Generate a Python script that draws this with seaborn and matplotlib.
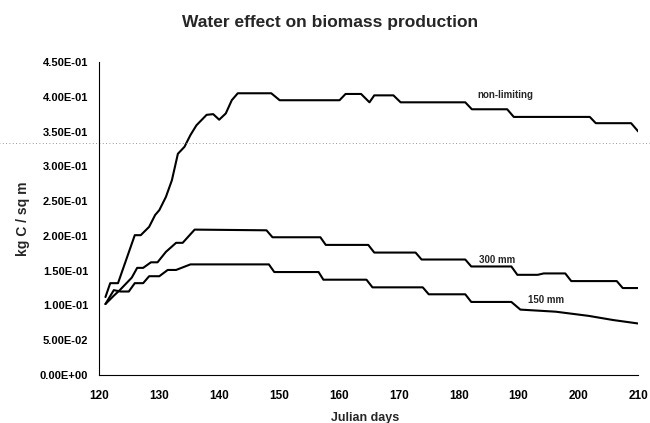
"""Water effect on biomass production - line chart recreation."""

import matplotlib
matplotlib.use("Agg")
import matplotlib.pyplot as plt
import pandas as pd
import seaborn as sns
from matplotlib.ticker import FuncFormatter, MultipleLocator

# Julian day / biomass (kg C per sq m)
non_limiting_days = [121, 121.8, 123.1, 125.9, 126.9, 128.3, 129.3, 130, 131.1, 132.1,
                     133.1, 134.2, 135.2, 136.2, 137.9, 139, 140, 141.1, 142.1, 143.1,
                     148.7, 150.1, 160.1, 161.1, 163.7, 165.1, 165.9, 169.1, 170.3,
                     181.1, 182.2, 188.1, 189.2, 201.9, 202.9, 208.8, 210]
non_limiting_vals = [0.112, 0.132, 0.132, 0.201, 0.201, 0.213, 0.23, 0.237, 0.256, 0.28,
                     0.318, 0.328, 0.345, 0.359, 0.374, 0.375, 0.367, 0.376, 0.395, 0.405,
                     0.405, 0.395, 0.395, 0.404, 0.404, 0.392, 0.402, 0.402, 0.392,
                     0.392, 0.382, 0.382, 0.371, 0.371, 0.362, 0.362, 0.35]

mm300_days = [121, 122.4, 123.4, 125.4, 126.3, 127.3, 128.6, 129.7, 131.1, 132.8,
              133.9, 135.9, 147.9, 148.9, 156.9, 157.8, 164.9, 165.9, 172.8, 173.8,
              181.1, 182.1, 188.8, 189.8, 193.2, 194.2, 197.8, 198.8, 206.4, 207.4, 210]
mm300_vals = [0.102, 0.114, 0.122, 0.14, 0.154, 0.154, 0.162, 0.162, 0.177, 0.19,
              0.19, 0.209, 0.208, 0.198, 0.198, 0.187, 0.187, 0.176, 0.176, 0.166,
              0.166, 0.156, 0.156, 0.144, 0.144, 0.146, 0.146, 0.135, 0.135, 0.125, 0.125]

mm150_days = [121, 122.4, 123.5, 124.9, 125.9, 127.3, 128.3, 130, 131.4, 132.8,
              135.2, 148.3, 149.2, 156.6, 157.4, 164.6, 165.6, 174, 175, 181.1,
              182.1, 188.8, 190.3, 196.2, 201.7, 205.8, 210]
mm150_vals = [0.102, 0.122, 0.12, 0.12, 0.132, 0.132, 0.142, 0.142, 0.151, 0.151,
              0.159, 0.159, 0.148, 0.148, 0.137, 0.137, 0.126, 0.126, 0.116, 0.116,
              0.105, 0.105, 0.094, 0.091, 0.085, 0.079, 0.074]

series_labels = ["non-limiting", "300 mm", "150 mm"]
# where each inline label sits (day, value)
label_pos = [(187.8, 0.402), (186.4, 0.165), (194.6, 0.108)]

frames = []
for name, d, v in [(series_labels[0], non_limiting_days, non_limiting_vals),
                   (series_labels[1], mm300_days, mm300_vals),
                   (series_labels[2], mm150_days, mm150_vals)]:
    frames.append(pd.DataFrame({"day": d, "biomass": v, "series": name}))
data = pd.concat(frames, ignore_index=True)

sns.set_style("white")
plt.rcParams["font.family"] = ["Liberation Sans", "DejaVu Sans"]

fig = plt.figure(figsize=(6.5, 4.23), dpi=100)
ax = fig.add_axes([0.153, 0.1135, 0.829, 0.740])

sns.lineplot(data=data, x="day", y="biomass", hue="series", units="series",
             estimator=None, sort=False, palette=["black"] * 3, linewidth=1.5,
             legend=False, ax=ax)

for text, (x, y) in zip(series_labels, label_pos):
    ax.text(x, y, text, fontsize=7, fontweight="bold", ha="center", va="center")

ax.set_xlim(120, 210)
ax.set_ylim(0, 0.45)
ax.xaxis.set_major_locator(MultipleLocator(10))
ax.yaxis.set_major_locator(MultipleLocator(0.05))
ax.yaxis.set_major_formatter(FuncFormatter(lambda v, _: f"{v:.2E}"))
ax.tick_params(axis="both", direction="inout", length=4, width=0.8, colors="black")
ax.tick_params(axis="x", labelsize=8.5, pad=9)
ax.tick_params(axis="y", labelsize=8, pad=6)
for lbl in ax.get_xticklabels() + ax.get_yticklabels():
    lbl.set_fontweight("bold")

sns.despine(ax=ax)
for side in ["left", "bottom"]:
    ax.spines[side].set_linewidth(0.8)
    ax.spines[side].set_color("black")

ax.set_xlabel("Julian days", fontsize=9, fontweight="bold")
ax.set_ylabel("kg C / sq m", fontsize=10, fontweight="bold")
ax.xaxis.set_label_coords(0.493, -0.118)
ax.yaxis.set_label_coords(-0.129, 0.5)
fig.suptitle("Water effect on biomass production", x=0.508, y=0.946, va="center",
             fontsize=12.5, fontweight="bold")

# faint dotted fold line from the scanned page
ax.axhline(0.334, xmin=-0.19, xmax=1.03, clip_on=False, color="#777777",
           linestyle=(0, (1, 3)), linewidth=0.6)

fig.savefig("out.png", dpi=100)
